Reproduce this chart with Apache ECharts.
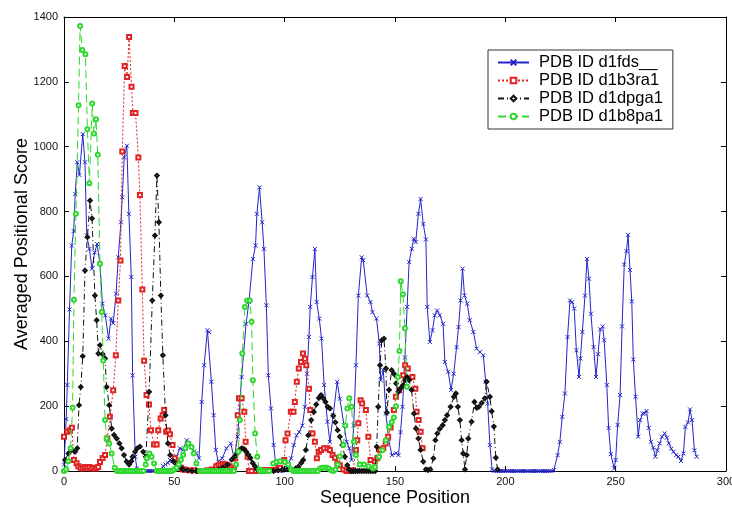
<!DOCTYPE html>
<html><head><meta charset="utf-8">
<script src="https://cdn.jsdelivr.net/npm/echarts@6/dist/echarts.min.js"></script>
<style>html,body{margin:0;padding:0;background:#fff}#c{width:732px;height:508px}</style>
</head><body><div id="c"></div>
<script>
// ---- data: [sequence position, averaged positional score] ----
const seriesNames = ['PDB ID d1fds__', 'PDB ID d1b3ra1', 'PDB ID d1dpga1', 'PDB ID d1b8pa1'];
const xTicks = [0, 50, 100, 150, 200, 250, 300];
const yTicks = [0, 200, 400, 600, 800, 1000, 1200, 1400];

const d1fds = [
 [0,20],[1,160],[1.5,265],[2.5,498],[3.5,695],[4.4,740],[5.1,854],[6,952],[7,913],[8.5,1039],[9.5,952],[10.3,726],
 [11.5,685],[12.7,624],[13.9,674],[15,700],[16.3,639],[17.4,516],[18.7,480],[20.2,408],[21.3,470],[22.3,456],
 [23.6,547],[24.6,659],[25.8,767],[26.4,844],[27.3,967],[28.5,1003],[29.4,793],[30.5,598],[31.1,295],[32.3,44],
 [33,8],[34,0],[35,0],[36,0],[37,0],[38,0],[39,0],[40,0],[41,0],[42,0],[43,0],[44,0],[45,15],[46,20],[47,25],
 [48,34],[49,30],[50,38],[51,45],[52.5,70],[53.8,65],[55.6,95],[56.6,85],[57.8,74],[59,60],[60,55],[61.2,39],
 [62.4,213],[63.5,326],[65,434],[65.8,428],[66.8,275],[67.8,172],[68.8,65],[69.9,29],[71.7,39],[73.6,70],[75.6,85],
 [77.1,39],[78.7,106],[80.5,290],[82.5,454],[83.8,521],[85.6,654],[86.8,695],[87.4,793],[88.6,875],[89.8,767],
 [90.6,685],[91.7,511],[92.6,295],[93.8,193],[95,80],[95.9,25],[97,5],[98,0],[99,0],[100,5],[101,10],[102.9,39],
 [104.1,80],[105.4,110],[106.6,120],[108,140],[109.2,198],[110.1,300],[111,413],[111.6,506],[112.6,598],[113.7,685],
 [114.5,521],[115.7,470],[116.7,408],[117.9,265],[119.4,152],[120.5,90],[122,172],[123.8,275],[125,223],[126.9,141],
 [128.1,90],[129.3,70],[130.3,34],[131.3,140],[132.3,326],[133.4,541],[134.9,659],[135.6,650],[137.4,541],[138.9,521],
 [139.8,490],[141.6,470],[142.9,393],[143.5,280],[144.7,311],[145.9,177],[147.1,98],[148.6,49],[150.4,55],[151.6,49],
 [152.5,120],[153.4,198],[154.5,350],[155.5,506],[156.4,644],[157.6,685],[158.5,716],[159.4,706],[160.6,793],
 [161.6,839],[162.8,762],[164,714],[164.6,506],[165.8,398],[167,434],[168,480],[169.1,495],[170.3,480],[171.8,454],
 [172.6,336],[174.1,306],[175.4,250],[176.6,300],[177.9,382],[178.8,444],[179.7,526],[180.6,624],[181.5,541],
 [182.7,516],[183.9,465],[185.5,429],[187,377],[188.5,367],[190,357],[191.1,275],[192,208],[193,80],[194,5],
 [195,0],[196,0],[197,0],[198,0],[199,0],[200,0],[201,0],[202,0],[203,0],[204,0],[205,0],[206,0],[207,0],[208,0],
 [209,0],[210,0],[211,0],[212,0],[213,0],[214,0],[215,0],[216,0],[217,0],[218,0],[219,0],[220,0],[221,0],[222,3],
 [223.7,49],[224.7,90],[225.8,167],[227,239],[228.2,413],[229.3,526],[230.3,521],[231.2,501],[232.2,372],[233.4,290],
 [234,347],[234.9,429],[236.1,541],[237,654],[237.9,593],[238.8,485],[240,382],[241.1,290],[242,360],[243,437],
 [244.1,446],[244.8,403],[246,265],[246.8,133],[247.8,52],[249.3,8],[250,34],[250.9,142],[252,234],[252.9,446],
 [253.9,637],[254.9,678],[255.6,728],[256.5,620],[257.3,523],[258,344],[259,229],[260.2,106],[261.1,157],[262.2,177],
 [263,177],[264,185],[265,133],[266,90],[267,72],[268,44],[268.9,64],[269.9,85],[271,106],[272.2,116],[273.2,103],
 [274.1,85],[275.2,69],[276.2,59],[277.4,49],[278.4,44],[279.6,31],[280.7,54],[281.6,136],[282.8,150],[283.7,190],
 [284.6,157],[285.7,64],[286.7,44]
];

const d1b3ra1 = [
 [0,106],[1.5,121],[2.7,126],[3.6,133],[4.5,34],[5.7,24],[6.5,15],[7.5,10],[8.5,8],[9.5,12],[10.5,10],[11.5,12],
 [12.5,8],[13.5,10],[14.5,8],[15.5,12],[16.3,28],[17.5,40],[18.6,49],[19.6,100],[20.8,167],[22.3,249],[23.5,357],
 [24.6,526],[25.6,649],[26.4,985],[27.5,1249],[28.6,1215],[29.5,1338],[30.6,1185],[31.2,1104],[32.4,1104],[33.7,967],
 [34.4,851],[35.5,560],[36.3,340],[37.4,234],[38.5,205],[39.4,126],[40.8,82],[42,82],[42.7,126],[43.8,162],[44.7,172],
 [45.4,188],[46.3,121],[47.2,125],[48,113],[49.2,80],[50.2,39],[51.7,23],[53,10],[54,5],[55,4],[57,2],[59,2],[61,0],
 [63,0],[65,2],[67,5],[69,15],[70,18],[71,20],[72,22],[73,20],[74,18],[75,15],[76,10],[77,5],[77.6,39],[78.7,172],
 [79.3,224],[80.5,224],[81.7,183],[82.3,90],[83.2,44],[83.8,0],[85,0],[87,0],[89,0],[91,3],[93,3],[95,3],[97,8],
 [98,10],[99.8,34],[100.4,95],[101.3,116],[102.8,183],[104,183],[104.6,213],[105.5,275],[106.4,316],[107.4,336],
 [108.3,362],[109.2,346],[109.8,326],[111,254],[111.6,188],[112.6,116],[113.7,90],[114.6,39],[115.5,59],[116.5,65],
 [117.9,70],[119.4,70],[120.5,65],[121.7,49],[122.8,41],[123.9,23],[125,18],[126.6,5],[128,0],[129,0],[130,0],
 [131,2],[132.3,65],[132.9,95],[133.4,147],[134.4,218],[135.1,208],[136.8,188],[137.9,106],[138.9,34],[140.9,29],
 [142,39],[143.2,65],[144.7,70],[145.8,85],[146.9,106],[148,134],[149.5,188],[150.4,229],[151.9,249],[153.7,295],
 [154.6,326],[155.8,316],[157.9,290],[159.2,254],[159.8,183],[160.7,157],[161.6,121],[162.5,70]
];

const d1dpga1 = [
 [0.5,34],[2,54],[3.5,65],[5,59],[6,70],[6.8,203],[7.6,259],[8.5,354],[9.5,618],[10.6,721],[11.8,834],[12.7,779],
 [14,541],[14.8,465],[15.6,362],[16.3,388],[17.5,360],[18.6,347],[19.3,259],[20.5,203],[21.6,131],[22.7,111],
 [23.9,100],[25.1,85],[26.1,70],[27.2,49],[28.4,29],[29.5,20],[30.5,30],[31.1,44],[32.2,59],[33.2,70],[34.4,75],
 [35.9,59],[37.1,44],[38.6,244],[40,526],[41.2,726],[42.1,911],[43,767],[43.9,541],[44.8,357],[46,172],[47.1,85],
 [48.1,49],[49.5,30],[51,20],[52,15],[53,10],[54,5],[56,2],[58,0],[60,0],[62,0],[64,0],[66,0],[68,2],[70,5],
 [72,10],[74,20],[76,35],[77.5,45],[78.5,55],[79.5,65],[80.5,70],[81.5,68],[82.5,60],[83.5,50],[84.5,40],[85.5,25],
 [86.5,15],[87.5,5],[89,0],[91,0],[93,0],[95,0],[97,2],[99,5],[101,5],[103,5],[105,8],[106.2,13],[107.5,25],
 [108.4,34],[109.6,65],[110.7,110],[112,157],[113.2,182],[114.3,205],[115.5,225],[116.5,234],[117.5,224],[118.5,213],
 [119.5,198],[120.5,193],[122,170],[123,150],[124,126],[125,106],[126.1,80],[127.3,44],[128.4,18],[129.2,5],
 [130,0],[131,0],[132,0],[133,0],[134,0],[135,0],[136,0],[137,0],[138,0],[139,0],[140,0],[141,0],[141.7,75],
 [142.4,198],[143.2,326],[144,403],[145,408],[145.9,316],[146.3,180],[147.3,250],[148.5,311],[149.5,300],[150.5,270],
 [151.5,244],[152.5,255],[153.7,265],[154.6,280],[155.5,290],[156.4,280],[157.5,250],[158.6,177],[159.5,131],
 [160.6,100],[161.6,65],[162.8,29],[164,5],[165,3],[166,5],[167.4,39],[168.3,95],[169.2,116],[170.3,130],[171.6,141],
 [172.6,157],[173.6,172],[175.2,198],[176.7,229],[177.6,239],[178.5,198],[179.4,157],[180.2,95],[180.9,54],[181.7,5],
 [182.5,49],[183.2,100],[184.7,152],[186,213],[187,195],[188,198],[189.3,210],[190.7,224],[191.5,275],[193,229],
 [193.8,184],[194.8,137],[195.7,41],[196.5,5]
];

const d1b8pa1 = [
 [0,0],[1,5],[2,30],[3,70],[3.9,195],[4.5,528],[5.4,793],[6.6,1128],[7.3,1372],[8.3,1298],[9.7,1285],[10.6,1054],
 [11.5,887],[12.8,1133],[13.6,1041],[14.5,1085],[15.3,975],[16.3,639],[17.1,490],[17.8,341],[18.6,157],[19.3,100],
 [20.5,85],[21.6,54],[23,10],[24,0],[25,0],[26,0],[27,0],[28,0],[29,0],[30,0],[31,0],[32,0],[33,0],[34,0],[35,0],
 [36,0],[37,20],[37.5,39],[38.7,54],[39.7,44],[40.8,23],[42,0],[43,0],[44,0],[45,0],[46,0],[47,0],[48,0],[49,0],
 [50,5],[51,10],[52,20],[53,35],[54,50],[55,70],[56.3,85],[57.8,74],[58.8,54],[60,23],[61.6,0],[62,0],[63,0],[64,0],
 [65,0],[66,0],[67,0],[68,0],[69,0],[70,0],[71,0],[72,0],[73,0],[74,0],[75,0],[76,0],[77,0],[78,20],[79,60],
 [79.7,157],[80.8,362],[82,506],[83,526],[84.2,526],[85,460],[85.6,280],[86.6,116],[87.6,44],[88.5,5],[89,0],[90,0],
 [91,0],[92,0],[93,0],[94.8,23],[96.3,28],[98,30],[100.1,28],[101.6,20],[103,5],[104,0],[105,0],[106,0],[107,0],
 [108,0],[109,0],[110,0],[111,0],[112,0],[113,0],[114,0],[115,0],[116,8],[117,10],[118,10],[119,10],[120,8],[121,2],
 [122,0],[123,5],[124,20],[125,45],[126.6,80],[127.5,140],[128.4,193],[129.3,224],[130.3,198],[131.4,90],[132.3,49],
 [134,20],[136,20],[138,15],[140,8],[141,12],[142.8,44],[144.3,64],[145.8,95],[147.3,136],[148.5,150],[149.5,165],
 [150.5,200],[151.3,290],[152,370],[152.6,585],[153.6,545],[154.5,440],[155.4,260]
];

// ---- chart ----
const chart = echarts.init(document.getElementById('c'), null, {renderer: 'canvas'});
const FONT = 'Liberation Sans, Arial, sans-serif';
const xSym = 'path://M0,0L10,10M10,0L0,10';

function axisCommon(extra) {
  return Object.assign({
    type: 'value',
    axisLine: {show: true, onZero: false, lineStyle: {color: '#000', width: 1}},
    axisTick: {show: true, inside: true, length: 5, lineStyle: {color: '#000'}},
    splitLine: {show: false},
    nameMoveOverlap: false,
    axisLabel: {color: '#111', fontFamily: FONT, fontSize: 11, margin: 5, formatter: v => String(v)}
  }, extra);
}

const option = {
  backgroundColor: '#fff',
  animation: false,
  grid: {left: 64, right: 6, top: 17, bottom: 37, containLabel: false, outerBoundsMode: 'none'},
  legend: {
    orient: 'vertical', left: 488, top: 50,
    backgroundColor: '#fff', borderColor: '#333', borderWidth: 1,
    padding: [4, 10, 4, 9], itemGap: 1, itemWidth: 31, itemHeight: 7,
    textStyle: {fontFamily: FONT, fontSize: 16.5, lineHeight: 17, color: '#000', padding: [0, 0, 0, 5]},
    data: seriesNames
  },
  xAxis: [
    axisCommon({min: xTicks[0], max: xTicks[xTicks.length - 1], interval: 50, position: 'bottom',
      name: 'Sequence Position', nameLocation: 'middle', nameGap: 18,
      nameTextStyle: {fontFamily: FONT, fontSize: 18, color: '#000', verticalAlign: 'top'}}),
    axisCommon({min: xTicks[0], max: xTicks[xTicks.length - 1], interval: 50, position: 'top',
      axisLabel: {show: false}})
  ],
  yAxis: [
    axisCommon({min: yTicks[0], max: yTicks[yTicks.length - 1], interval: 200, position: 'left',
      axisLabel: {color: '#111', fontFamily: FONT, fontSize: 11, margin: 6, formatter: v => String(v)},
      name: 'Averaged Positional Score', nameLocation: 'middle', nameGap: 33,
      nameTextStyle: {fontFamily: FONT, fontSize: 18, color: '#000'}}),
    axisCommon({min: yTicks[0], max: yTicks[yTicks.length - 1], interval: 200, position: 'right',
      axisLabel: {show: false}})
  ],
  series: [
    {name: seriesNames[0], type: 'line', data: d1fds, symbol: xSym, symbolSize: 4,
      lineStyle: {color: '#2424c8', width: 1, type: 'solid'},
      itemStyle: {color: '#2424c8', borderColor: '#2424c8', borderWidth: 1}, z: 2},
    {name: seriesNames[1], type: 'line', data: d1b3ra1, symbol: 'emptyRect', symbolSize: 4,
      lineStyle: {color: '#e02424', width: 1, type: [2, 2]},
      itemStyle: {color: '#e02424', borderColor: '#e02424', borderWidth: 1}, z: 3},
    {name: seriesNames[2], type: 'line', data: d1dpga1, symbol: 'emptyDiamond', symbolSize: 3.5,
      lineStyle: {color: '#111', width: 1, type: [6, 3, 1, 3]},
      itemStyle: {color: '#111', borderColor: '#111', borderWidth: 1}, z: 4},
    {name: seriesNames[3], type: 'line', data: d1b8pa1, symbol: 'emptyCircle', symbolSize: 4,
      lineStyle: {color: '#2ed82e', width: 1, type: [8, 4]},
      itemStyle: {color: '#2ed82e', borderColor: '#2ed82e', borderWidth: 1}, z: 5}
  ]
};
chart.setOption(option);
</script></body></html>
